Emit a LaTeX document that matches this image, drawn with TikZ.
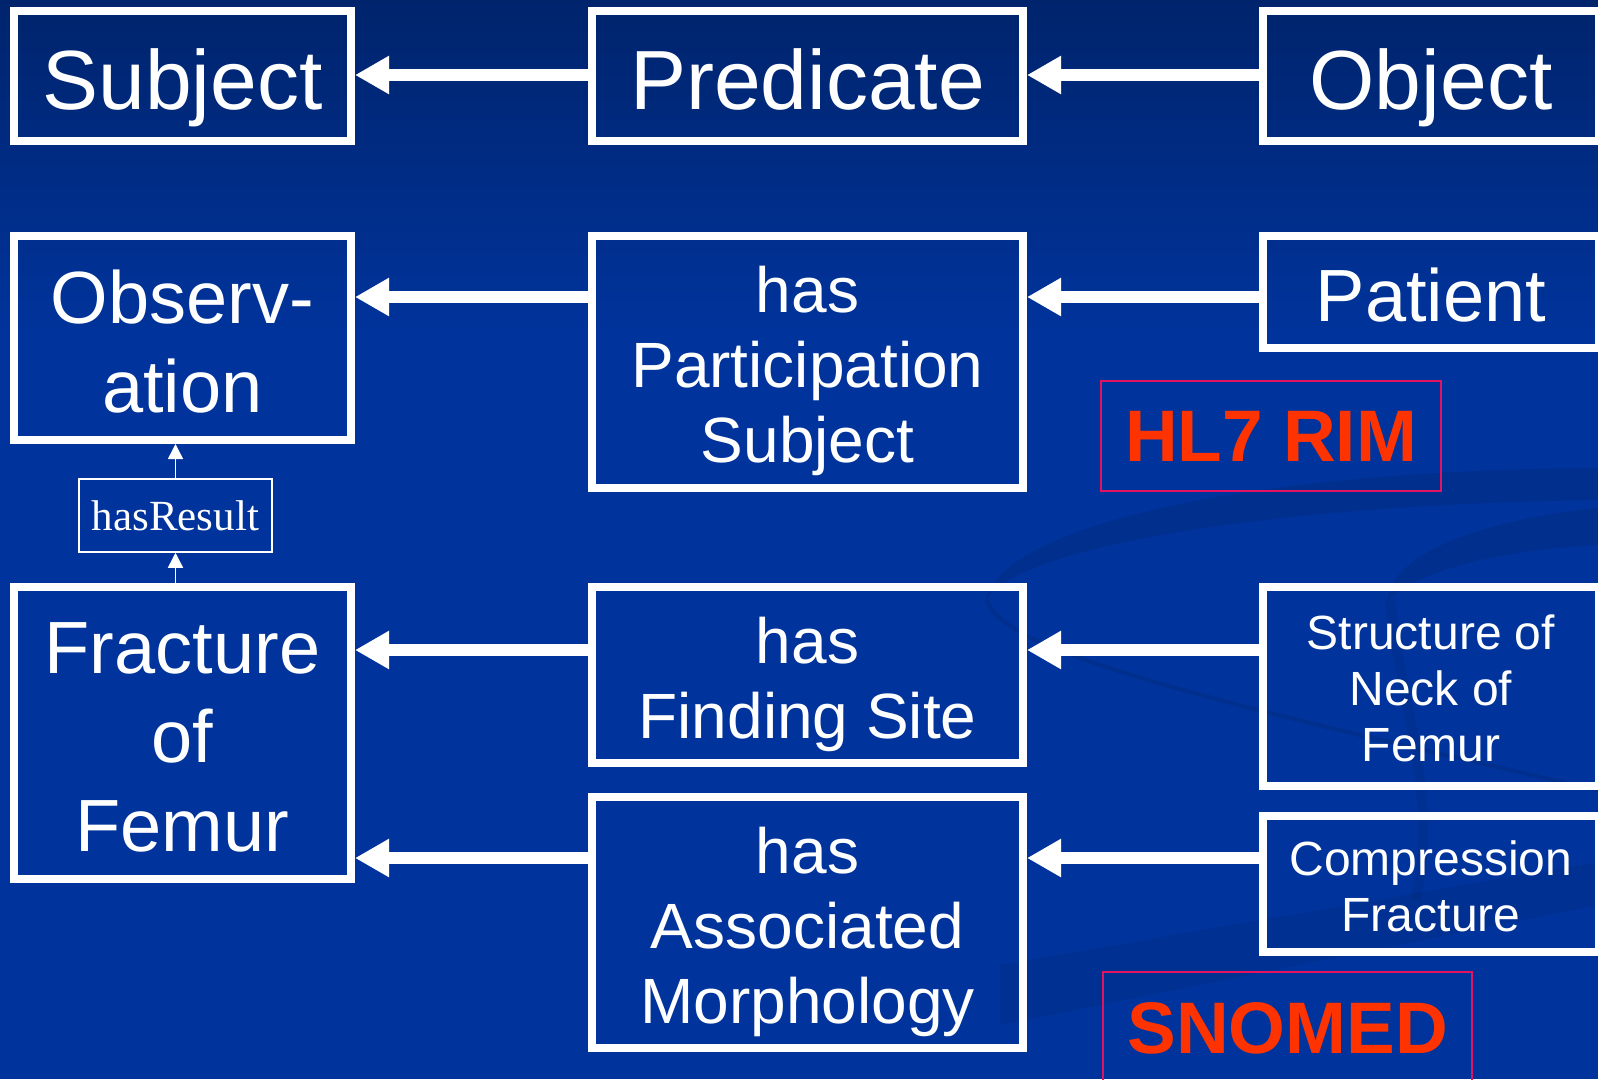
\documentclass[tikz,border=0pt]{standalone}
\usepackage{fontspec}
\setmainfont{Liberation Sans}
\newfontfamily\timesfont{Liberation Serif}
\usetikzlibrary{arrows.meta,calc}

\definecolor{bgtop}{RGB}{0,36,108}
\definecolor{bgblue}{RGB}{0,51,155}
\definecolor{rimred}{RGB}{255,51,0}
\definecolor{rimframe}{RGB}{226,20,98}

\begin{document}
\begin{tikzpicture}[x=1pt, y=-1pt,
    box/.style={draw=white, line width=8pt, text=white, align=center, inner sep=0pt},
    colA/.style={minimum width=337pt},
    colB/.style={minimum width=431pt},
    colC/.style={minimum width=336pt},
    hugetext/.style={font=\fontsize{84pt}{100pt}\selectfont, text height=84pt, text depth=17pt},
    bigtext/.style={font=\fontsize{74pt}{89pt}\selectfont, text depth=15pt},
    midtext/.style={font=\fontsize{64pt}{75pt}\selectfont, text depth=13pt},
    smalltext/.style={font=\fontsize{48pt}{56pt}\selectfont, text depth=10pt},
    relbox/.style={draw=white, line width=1.5pt, text=white, inner sep=0pt,
        minimum width=193pt, minimum height=73pt, font=\timesfont\fontsize{43pt}{50pt}\selectfont},
    tagbox/.style={draw=rimframe, line width=1.5pt, text=rimred, inner sep=0pt,
        font=\bfseries\fontsize{73pt}{88pt}\selectfont},
    bigarrow/.style={white, line width=12pt, -{Triangle[length=34pt, width=36pt]}},
    thinarrow/.style={white, line width=1.5pt, -{Triangle[length=15pt, width=15pt]}}]

    % Background
    \useasboundingbox (0,0) rectangle (1598,1079);
    \clip (0,0) rectangle (1598,1079);
    \fill[bgblue] (0,0) rectangle (1598,1079);
    \shade[top color=bgtop, bottom color=bgblue] (0,0) rectangle (1598,330);

    % Faint swirls
    \fill[black, opacity=0.08] (1598,468) .. controls (1250,470) and (1000,525) .. (985,602)
        .. controls (1010,550) and (1250,505) .. (1598,500) -- cycle;
    \draw[black, opacity=0.08, line width=4pt] (987,600) .. controls (1000,650) and (1200,700) .. (1598,790);
    \fill[black, opacity=0.08] (1598,508) .. controls (1480,520) and (1390,555) .. (1388,600)
        .. controls (1420,570) and (1500,550) .. (1598,545) -- cycle;
    \draw[black, opacity=0.06, line width=10pt] (1390,600) .. controls (1400,700) and (1440,800) .. (1415,900);
    \fill[black, opacity=0.06] (1000,965) -- (1598,862) -- (1598,905) -- (1000,1025) -- cycle;

    % Row: Subject - Predicate - Object
    \node[box, colA, hugetext, minimum height=130pt] (subj) at (182.5,76) {Subject};
    \node[box, colB, hugetext, minimum height=130pt] (pred) at (807.5,76) {Predicate};
    \node[box, colC, hugetext, minimum height=130pt] (obj) at (1431,76) {Object};

    % Row: HL7 RIM
    \node[box, colA, bigtext, text height=163pt, minimum height=204pt] (obs) at (182.5,338) {Observ-\\ation};
    \node[box, colB, midtext, text height=214pt, minimum height=252pt] (hasps) at (807.5,362) {has\\Participation\\Subject};
    \node[box, colC, bigtext, text height=74pt, minimum height=112pt] (patient) at (1431,292) {Patient};
    \node[tagbox, minimum width=340pt, minimum height=110pt] (rim) at (1271,436) {HL7 RIM};

    % Link between the two models
    \node[relbox] (hasres) at (175.5,515.5) {hasResult};

    % Rows: SNOMED
    \node[box, colA, bigtext, text height=252pt, minimum height=292pt] (frac) at (182.5,733) {Fracture\\of\\Femur};
    \node[box, colB, midtext, text height=139pt, minimum height=176pt] (hasfs) at (807.5,675) {has\\Finding Site};
    \node[box, colC, smalltext, text height=160pt, minimum height=199pt] (neck) at (1431,686.5) {Structure of\\Neck of\\Femur};
    \node[box, colB, midtext, text height=214pt, minimum height=251pt] (hasam) at (807.5,922.5) {has\\Associated\\Morphology};
    \node[box, colC, smalltext, text height=104pt, minimum height=136pt] (compr) at (1431,884) {Compression\\Fracture};
    \node[tagbox, minimum width=369pt, minimum height=112pt] (snomed) at (1287.5,1028) {SNOMED};

    % Arrow heights
    \coordinate (r1) at (0,75);
    \coordinate (r2) at (0,297);
    \coordinate (r3) at (0,650);
    \coordinate (r4) at (0,858);

    % Arrows
    \draw[bigarrow] (obj.west |- r1) -- (pred.east |- r1);
    \draw[bigarrow] (pred.west |- r1) -- (subj.east |- r1);
    \draw[bigarrow] (patient.west |- r2) -- (hasps.east |- r2);
    \draw[bigarrow] (hasps.west |- r2) -- (obs.east |- r2);
    \draw[bigarrow] (neck.west |- r3) -- (hasfs.east |- r3);
    \draw[bigarrow] (hasfs.west |- r3) -- (frac.east |- r3);
    \draw[bigarrow] (compr.west |- r4) -- (hasam.east |- r4);
    \draw[bigarrow] (hasam.west |- r4) -- (frac.east |- r4);
    \draw[thinarrow] (hasres.south |- frac.north) -- (hasres.south);
    \draw[thinarrow] (hasres.north) -- (hasres.north |- obs.south);
\end{tikzpicture}
\end{document}
